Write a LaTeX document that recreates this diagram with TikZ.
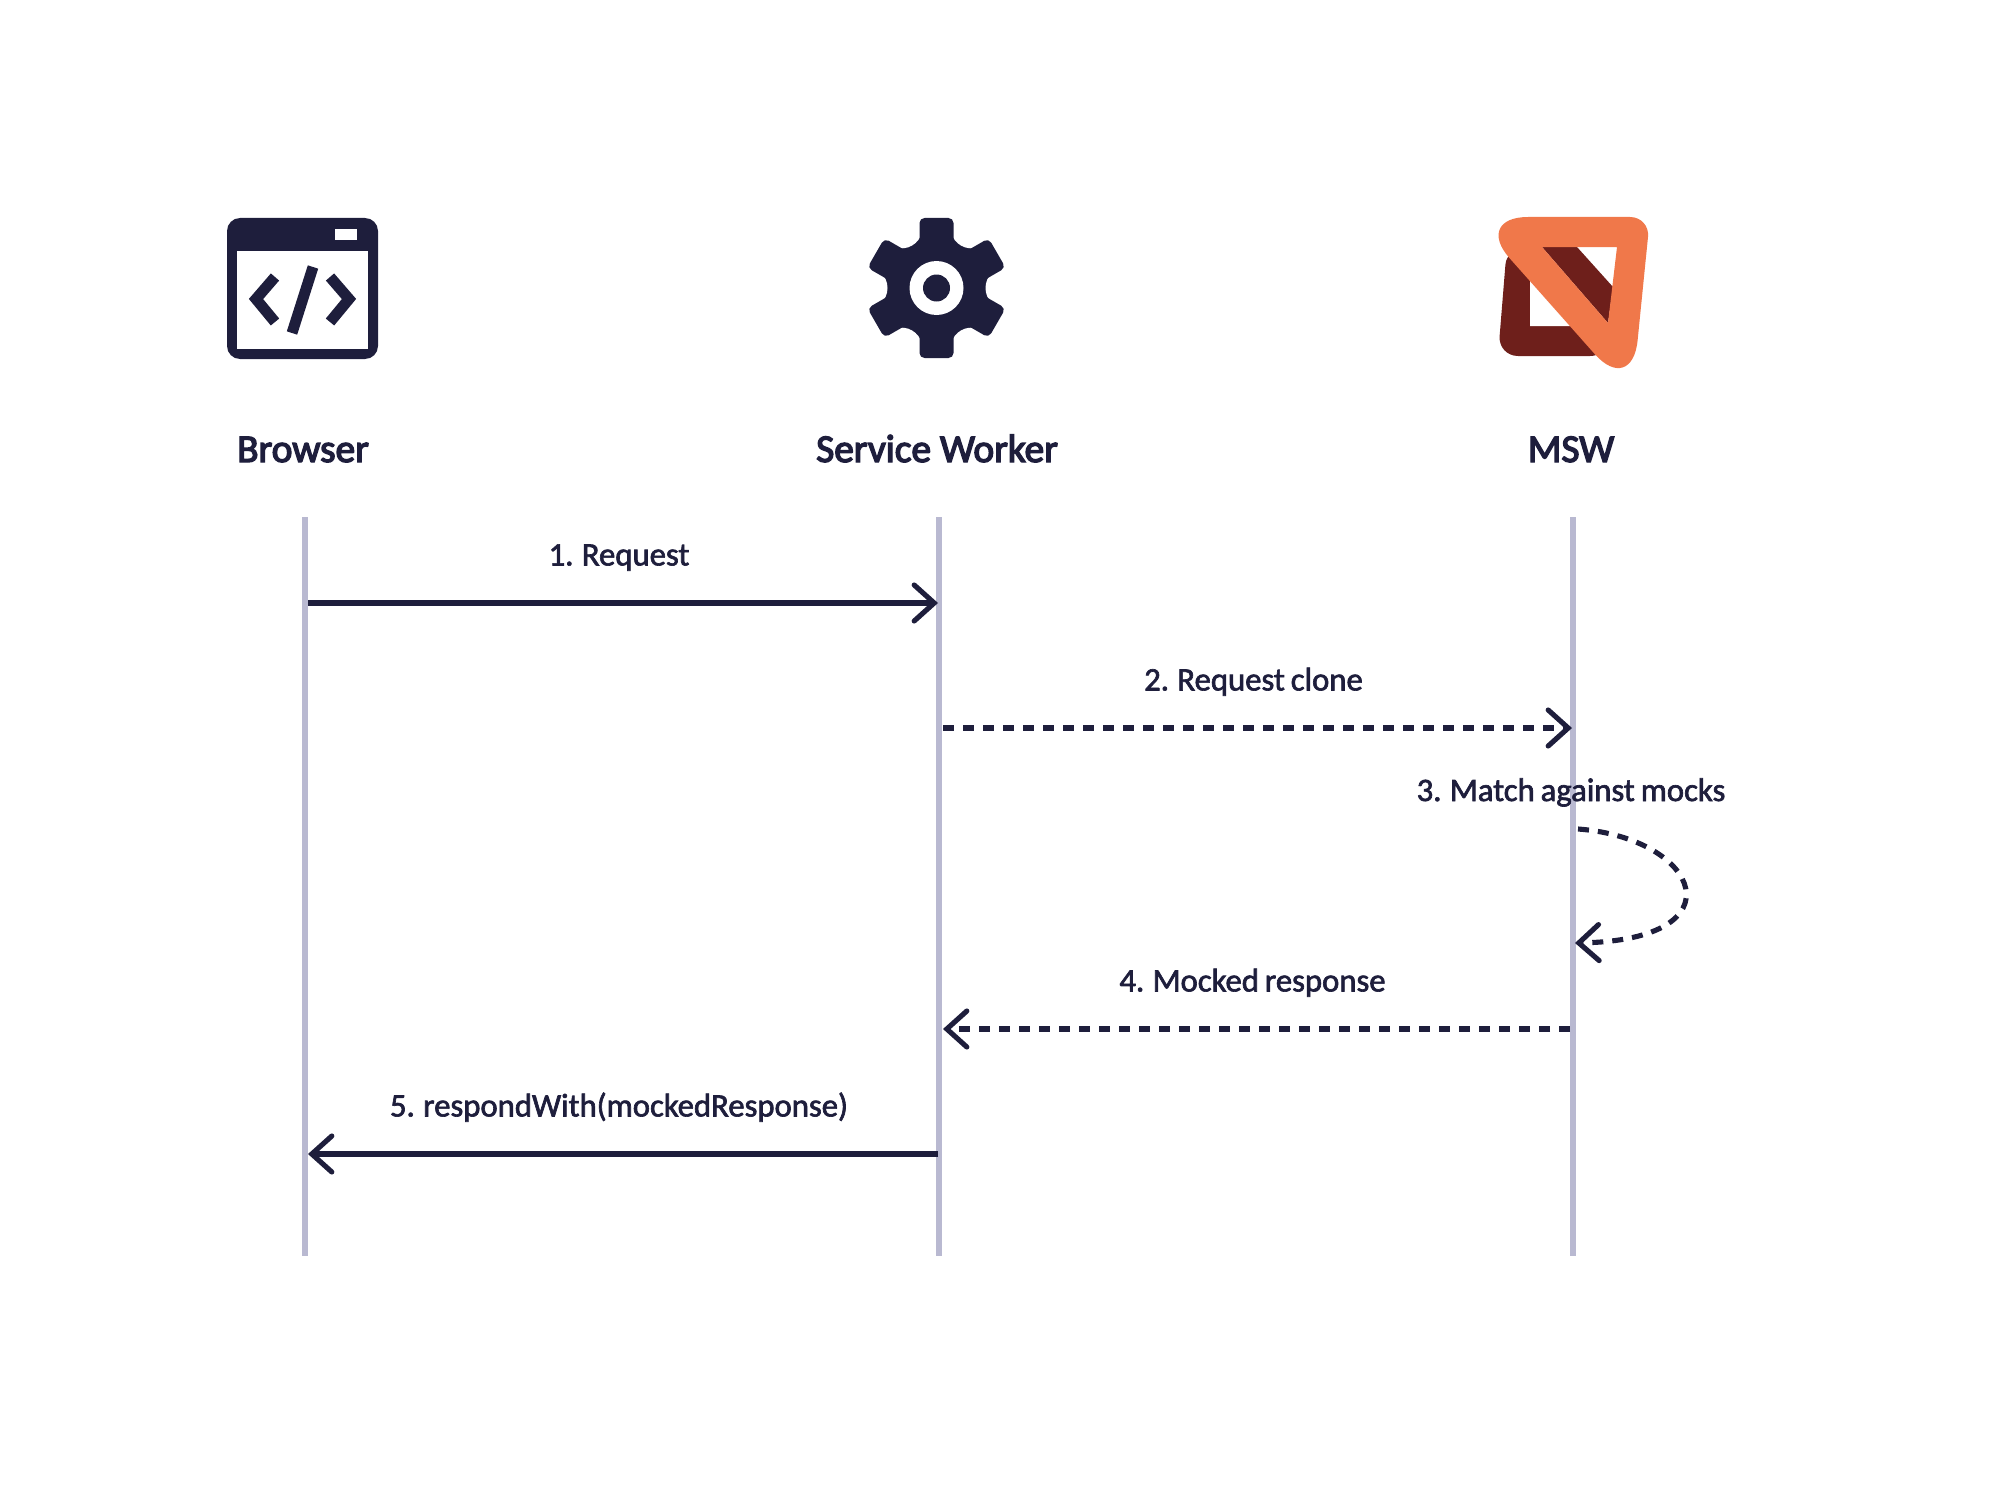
\documentclass[tikz,border=0pt]{standalone}
\usepackage{fontspec}
\usetikzlibrary{arrows.meta}
\setmainfont{Carlito}
\newfontfamily\headfont[FakeBold=3.5]{Carlito}
\newfontfamily\stepfont[FakeBold=2,WordSpace=0.8]{Carlito}

\definecolor{ink}{HTML}{1E1E3C}
\definecolor{lifeline}{HTML}{B9B9D1}
\definecolor{mswlight}{HTML}{F0784A}
\definecolor{mswdark}{HTML}{6E1F1B}

\tikzset{
	head/.style = {anchor = base, inner sep = 0, text = ink, font = \headfont\fontsize{11.2}{13}\selectfont},
	steplabel/.style = {inner sep = 0, text depth = 0pt, text = ink, font = \stepfont\fontsize{9.3}{11}\selectfont},
	msglabel/.style = {steplabel, above = 0.35cm, xshift = -0.04cm},
	life/.style = {draw = lifeline, line width = 1.45pt},
	msg/.style = {draw = ink, line width = 1.45pt, ->},
	msgdash/.style = {msg, dash pattern = on 0.11cm off 0.09cm}
}

\begin{document}
\begin{tikzpicture}[x = 0.01cm, y = -0.01cm, > = {Straight Barb[length = 0.2cm, width = 0.36cm, line cap = round]}]

\useasboundingbox (0, 0) rectangle (2000, 1500);

\coordinate (browsertop) at (305, 517);
\coordinate (browserbot) at (305, 1256);
\coordinate (workertop) at (939, 517);
\coordinate (workerbot) at (939, 1256);
\coordinate (mswtop) at (1573, 517);
\coordinate (mswbot) at (1573, 1256);

\draw [life] (browsertop) -- (browserbot);
\draw [life] (workertop) -- (workerbot);
\draw [life] (mswtop) -- (mswbot);

% browser icon
\fill [ink, rounded corners = 0.13cm] (227, 218) rectangle (378, 359);
\fill [white] (237, 251) rectangle (368, 349);
\fill [white] (335, 229) rectangle (357, 240);
\draw [ink, line width = 3.1pt] (275, 277) -- (256, 299) -- (275, 322);
\draw [ink, line width = 3.1pt] (330, 277) -- (349, 299) -- (330, 322);
\draw [ink, line width = 3.1pt] (313, 267) -- (292, 333);

% gear icon
\begin{scope}[shift = {(936.5, 288)}]
	\fill [ink] (0, 0) circle (60);
	\foreach \a in {30, 90, ..., 330}
		\fill [white, rotate = \a] (0, 70) circle (21);
	\foreach \a in {0, 60, ..., 300}
		\fill [ink, rotate = \a, rounded corners = 0.05cm] (-17, 40) rectangle (17, 70);
	\fill [white] (0, 0) circle (27);
	\fill [ink] (0, 0) circle (13.5);
\end{scope}

% msw icon
\fill [mswdark, rounded corners = 0.2cm] (1507, 245) -- (1498, 356) -- (1610, 356) -- (1530, 260) -- cycle;
\fill [white] (1530, 280) -- (1530, 326) -- (1572, 326) -- cycle;
\fill [mswdark] (1542, 247) -- (1577, 247) -- (1613, 287) -- (1608, 323) -- cycle;
\fill [mswlight, even odd rule] (1560, 217) [rounded corners = 0.2cm] -- (1650, 217) [rounded corners = 0.56cm] -- (1632, 396) [rounded corners = 0.55cm] -- (1473, 217) [rounded corners = 0.2cm] -- cycle
	[sharp corners] (1542, 247) -- (1617, 247) -- (1608, 323) -- cycle;

\node (browserhead) [head] at (303, 462) {Browser};
\node (workerhead) [head] at (937, 462) {Service Worker};
\node (mswhead) [head] at (1571, 462) {MSW};

\coordinate (reqfrom) at (308, 603);
\coordinate (reqto) at (938, 603);
\coordinate (clonefrom) at (943, 728);
\coordinate (cloneto) at (1572, 728);
\coordinate (selffrom) at (1578, 829);
\coordinate (selfctla) at (1700, 838);
\coordinate (selfctlb) at (1742, 940);
\coordinate (selfto) at (1575, 943);
\coordinate (mockfrom) at (1570, 1029);
\coordinate (mockto) at (943, 1029);
\coordinate (respfrom) at (938, 1154);
\coordinate (respto) at (308, 1154);

\draw [msg] (reqfrom) -- node (reqlabel) [msglabel] {1. Request} (reqto);
\draw [msgdash] (clonefrom) -- node (clonelabel) [msglabel] {2. Request clone} (cloneto);
\node (matchlabel) [steplabel, anchor = base] at (1571, 801) {3. Match against mocks};
\draw [msgdash] (selffrom) .. controls (selfctla) and (selfctlb) .. (selfto);
\draw [msgdash] (mockfrom) -- node (mocklabel) [msglabel] {4. Mocked response} (mockto);
\draw [msg] (respfrom) -- node (resplabel) [msglabel] {5. respondWith(mockedResponse)} (respto);

\end{tikzpicture}
\end{document}
